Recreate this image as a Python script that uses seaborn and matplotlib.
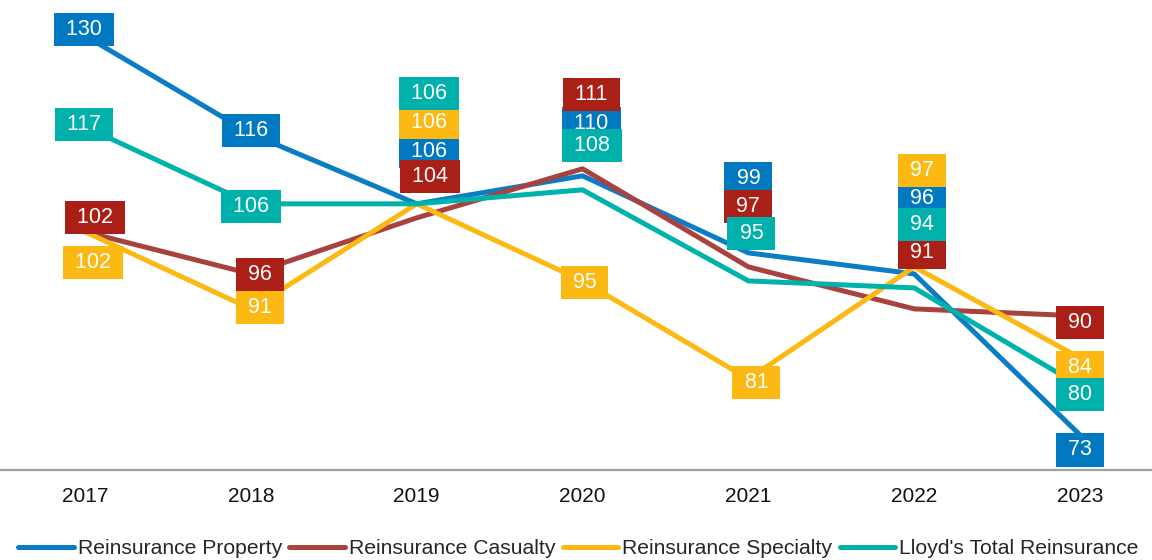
import numpy as np
import pandas as pd
import matplotlib
matplotlib.use("Agg")
import matplotlib.pyplot as plt
from matplotlib.lines import Line2D
import seaborn as sns

# ---- data ----
years = ["2017", "2018", "2019", "2020", "2021", "2022", "2023"]
series_names = ["Reinsurance Property", "Reinsurance Casualty",
                "Reinsurance Specialty", "Lloyd's Total Reinsurance"]
property_vals = [130, 116, 106, 110, 99, 96, 73]
casualty_vals = [102, 96, 104, 111, 97, 91, 90]
specialty_vals = [102, 91, 106, 95, 81, 97, 84]
lloyds_vals = [117, 106, 106, 108, 95, 94, 80]

# ---- style ----
line_colors = ["#0A7DC5", "#A8423F", "#FDB913", "#00B2AC"]
box_colors = ["#0079C1", "#AA1F16", "#FDB913", "#00B0AA"]

# label offsets (pixels) from each data point, per series, per year
label_offsets = {
    0: [(-1, 6), (0, 3), (12, 52), (9, 52), (0, 74), (8, 75), (0, -15)],
    1: [(10, 14), (9, -1), (13, 41), (9, 74), (0, 60), (8, 56), (0, -7)],
    2: [(8, -31), (9, 1), (12, 81), (2, -2), (8, -4), (8, 96), (0, -10)],
    3: [(-1, 2), (0, -3), (12, 110), (9, 44), (3, 47), (8, 63), (0, -9)],
}

sns.set_theme(style="white")
plt.rcParams["font.family"] = ["Liberation Sans", "DejaVu Sans"]

all_vals = [property_vals, casualty_vals, specialty_vals, lloyds_vals]
df = pd.DataFrame({
    "Year": np.tile(np.arange(len(years)), len(series_names)),
    "Value": np.concatenate(all_vals),
    "Series": np.repeat(series_names, len(years)),
})

fig = plt.figure(figsize=(11.52, 5.6), dpi=100)
ax = fig.add_axes([0.0, 90 / 560, 1.0, 470 / 560])

sns.lineplot(data=df, x="Year", y="Value", hue="Series", hue_order=series_names,
             palette=line_colors, linewidth=3.6, ax=ax, legend=False)

ax.set_xlim(-0.513, 6.434)
ax.set_ylim(68, 135.1)
ax.set_xticks(range(len(years)))
ax.set_xticklabels(years)
ax.set_yticks([])
ax.set_xlabel("")
ax.set_ylabel("")
ax.tick_params(axis="x", length=0, pad=12, labelsize=15, labelcolor="#111111")
for s in ["left", "top", "right"]:
    ax.spines[s].set_visible(False)
ax.spines["bottom"].set_color("#A0A0A0")
ax.spines["bottom"].set_linewidth(1.6)

for si, vals in enumerate(all_vals):
    for yi, v in enumerate(vals):
        dx, dy = label_offsets[si][yi]
        ax.annotate(f" {v} ", (yi, v), xytext=(dx, dy), textcoords="offset pixels",
                    ha="center", va="center", color="white", fontsize=15.5,
                    bbox=dict(boxstyle="square,pad=0.28", fc=box_colors[si], ec="none"),
                    zorder=5)

handles = [Line2D([0], [0], color=c, lw=3.6, solid_capstyle="round") for c in line_colors]
fig.legend(handles, series_names, loc="center", bbox_to_anchor=(0.502, 11 / 560),
           ncol=4, frameon=False, fontsize=15.2, handlelength=2.64,
           handletextpad=0.19, columnspacing=0.34)

fig.savefig("out.png", dpi=100)
